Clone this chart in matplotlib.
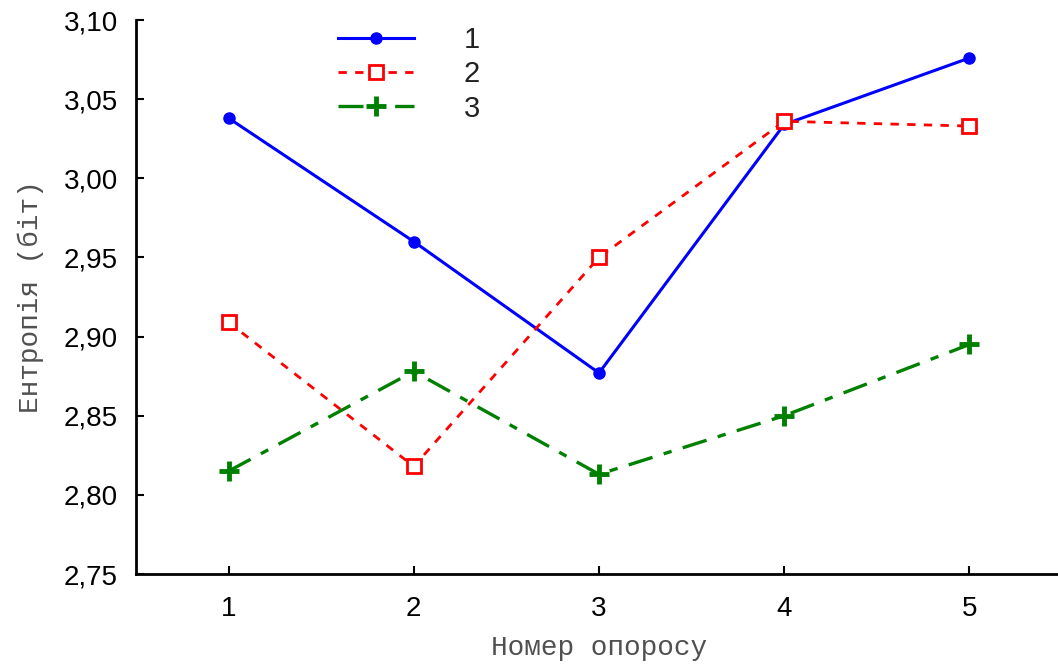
import matplotlib
matplotlib.use("Agg")
import matplotlib.pyplot as plt
from matplotlib.ticker import FuncFormatter

# номер опоросу
opory = [1, 2, 3, 4, 5]
# ентропія для трьох груп
grupa1 = [3.038, 2.960, 2.877, 3.034, 3.076]
grupa2 = [2.909, 2.818, 2.950, 3.036, 3.033]
grupa3 = [2.815, 2.878, 2.813, 2.850, 2.895]
nazvy = ["1", "2", "3"]

fig = plt.figure(figsize=(10.58, 6.68), dpi=100)
ax = fig.add_axes([136 / 1058, 94 / 668, 926 / 1058, 554 / 668])

ax.plot(opory, grupa1, color="#0000ff", lw=2.2, marker="o", ms=8,
        label=nazvy[0])
ax.plot(opory, grupa2, color="#ff0000", lw=2, ls=(0, (3, 3)), marker="s",
        ms=10, mfc="white", mec="#ff0000", mew=2, label=nazvy[1])
ax.plot(opory, grupa3, color="#008000", lw=2.4, ls=(0, (7.5, 3.5, 2.5, 3.5)),
        marker="+", ms=15, mew=3.5, label=nazvy[2])

ax.set_xlim(0.5, 5.5)
ax.set_ylim(2.75, 3.10)
ax.set_xticks(opory)
ax.set_yticks([2.75, 2.80, 2.85, 2.90, 2.95, 3.00, 3.05, 3.10])
ax.yaxis.set_major_formatter(FuncFormatter(lambda v, p: f"{v:.2f}".replace(".", ",")))

for s in ["top", "right"]:
    ax.spines[s].set_visible(False)
for s in ["left", "bottom"]:
    ax.spines[s].set_linewidth(2)
ax.tick_params(direction="in", length=6, width=1.5, labelsize=20,
               colors="black")
ax.tick_params(axis="y", pad=13)
ax.tick_params(axis="x", pad=16)
for lab in ax.get_xticklabels() + ax.get_yticklabels():
    lab.set_family("Liberation Sans")

ax.set_xlabel("Номер опоросу", family="Liberation Mono", fontsize=20,
              color="#505050", labelpad=9)
ax.set_ylabel("Ентропія (біт)", family="Liberation Mono", fontsize=20,
              color="#505050", labelpad=14)

leg = ax.legend(loc="upper left", bbox_to_anchor=(0.19, 1.037), frameon=False,
                handlelength=2.6, handletextpad=1.7, labelspacing=0.22,
                prop={"family": "Liberation Sans", "size": 21})
for t in leg.get_texts():
    t.set_color("#222222")

fig.savefig("out.png", dpi=100)
